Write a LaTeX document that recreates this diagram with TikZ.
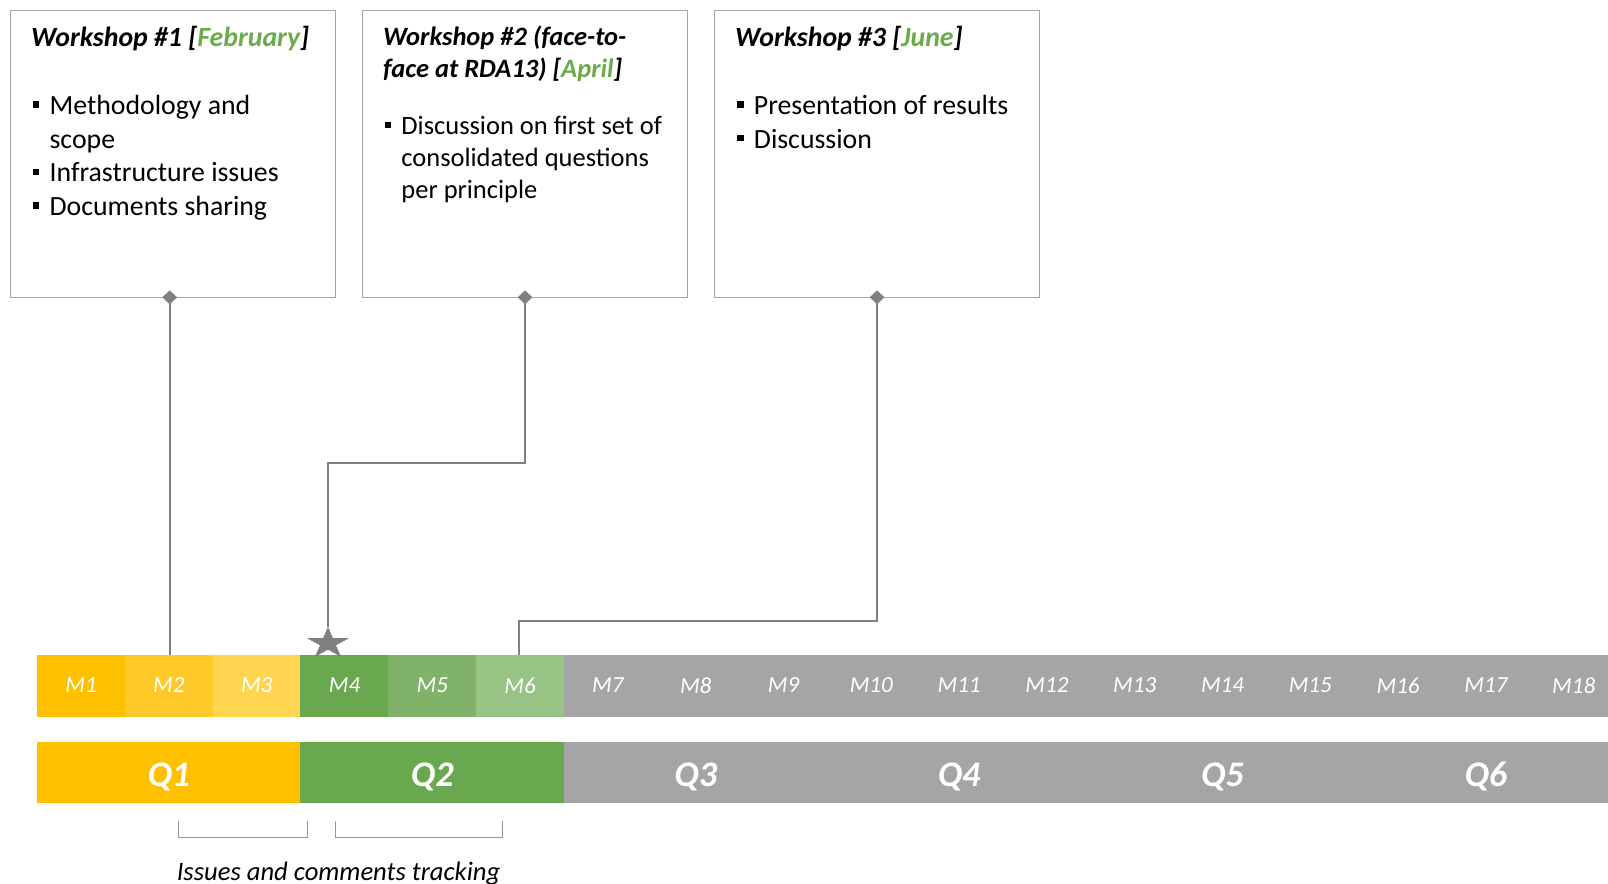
\documentclass[tikz,border=0pt]{standalone}
\usepackage{fontspec}
\setmainfont{Carlito}
\usetikzlibrary{shapes.geometric,backgrounds}
\definecolor{wsgreen}{HTML}{6AAB4A}
\definecolor{boxgray}{HTML}{A6A6A6}
\definecolor{conngray}{HTML}{808080}
\definecolor{brgray}{HTML}{969696}
\definecolor{barg}{HTML}{A5A5A5}
\definecolor{yA}{HTML}{FFC000}
\definecolor{yB}{HTML}{FFC929}
\definecolor{yC}{HTML}{FFD451}
\definecolor{gA}{HTML}{6AA84F}
\definecolor{gB}{HTML}{80B26A}
\definecolor{gC}{HTML}{97C385}
\newcommand\wbulA{\makebox[17pt][l]{\raisebox{6.6pt}{\rule{6.8pt}{6.6pt}}}}
\newcommand\wbulB{\makebox[16.6pt][l]{\raisebox{6.3pt}{\rule{6.5pt}{6.3pt}}}}
\begin{document}
\begin{tikzpicture}[x=1pt,y=-1pt,
  wbox/.style={draw=boxgray, line width=1pt, fill=white, anchor=north west, inner sep=0pt},
  lnA/.style={anchor=base west, inner sep=0pt, font=\fontsize{27.8pt}{33.7pt}\selectfont},
  lnB/.style={anchor=base west, inner sep=0pt, font=\fontsize{26.5pt}{31.8pt}\selectfont},
  ttlA/.style={lnA, font=\fontsize{27.8pt}{33.7pt}\selectfont\bfseries\itshape},
  ttlB/.style={lnB, font=\fontsize{26.5pt}{31.8pt}\selectfont\bfseries\itshape},
  dmd/.style={diamond, fill=conngray, minimum width=15pt, minimum height=14pt, inner sep=0pt},
  conn/.style={draw=conngray, line width=2.3pt},
  brk/.style={draw=brgray, line width=1.3pt},
  mcell/.style={minimum width=87.8pt, minimum height=60.7pt, inner sep=0pt, line width=0.4pt, text=white, font=\fontsize{23pt}{26pt}\selectfont\itshape},
  qcell/.style={minimum width=263.4pt, minimum height=60.7pt, inner sep=0pt, line width=0.4pt, text=white, text height=27.4pt, text depth=0pt, font=\fontsize{36pt}{40pt}\selectfont\bfseries\itshape}]
\useasboundingbox (0,0) rectangle (1608,883);
\begin{pgfonlayer}{background}
\fill[white] (0,0) rectangle (1608,883);
\end{pgfonlayer}

% workshop boxes
\node[wbox, minimum width=325.3pt, minimum height=287.3pt] (w1) at (10,10) {};
\node[wbox, minimum width=325pt, minimum height=287.3pt] (w2) at (362,10) {};
\node[wbox, minimum width=325pt, minimum height=287.3pt] (w3) at (714.3,10) {};

% box 1 text
\node[ttlA] (t1) at (31,46.5) {Workshop \#1 [\textcolor{wsgreen}{February}]};
\node[lnA] (t1a) at (32.4,114.3) {\wbulA Methodology and};
\node[lnA] (t1b) at (49.4,148) {scope};
\node[lnA] (t1c) at (32.4,181.7) {\wbulA Infrastructure issues};
\node[lnA] (t1d) at (32.4,215.4) {\wbulA Documents sharing};

% box 2 text
\node[ttlB] (t2) at (383,46) {Workshop \#2 (face-to-};
\node[ttlB] (t2x) at (383,77.8) {face at RDA13) [\textcolor{wsgreen}{April}]};
\node[lnB] (t2a) at (384.6,134.4) {\wbulB Discussion on first set of};
\node[lnB] (t2b) at (401.2,166.2) {consolidated questions};
\node[lnB] (t2c) at (401.2,198) {per principle};

% box 3 text
\node[ttlA] (t3) at (735,46.5) {Workshop \#3 [\textcolor{wsgreen}{June}]};
\node[lnA] (t3a) at (736.7,114.3) {\wbulA Presentation of results};
\node[lnA] (t3b) at (736.7,148) {\wbulA Discussion};

% diamonds
\node[dmd] (d1) at (169.7,297.3) {};
\node[dmd] (d2) at (525,297.3) {};
\node[dmd] (d3) at (877,297.3) {};

% month bar
\foreach \i/\c in {1/yA,2/yB,3/yC,4/gA,5/gB,6/gC,7/barg,8/barg,9/barg,10/barg,11/barg,12/barg,13/barg,14/barg,15/barg,16/barg,17/barg,18/barg}
  \node[mcell, fill=\c, draw=\c] (m\i) at ({37.2+(\i-0.5)*87.8},685.4) {M\i};

% quarter bar
\foreach \k/\c in {1/yA,2/gA,3/barg,4/barg,5/barg,6/barg}
  \node[qcell, fill=\c, draw=\c] (q\k) at ({37.2+(\k-0.5)*263.4},772.3) {Q\k};

% star
\coordinate (star) at (328,626.7);
\fill[conngray, shift={(star)}] (0,0) -- (4.96,11.47) -- (21.02,11.47) -- (8.03,18.56) -- (13.0,30.03) -- (0,22.94) -- (-13.0,30.03) -- (-8.03,18.56) -- (-21.02,11.47) -- (-4.96,11.47) -- cycle;

% connectors
\coordinate (c2) at (328,463.3);
\coordinate (c3) at (519.3,620.7);
\begin{pgfonlayer}{background}
\draw[conn] (d1.center) -- (d1.center |- m2.north);
\draw[conn] (d2.center) |- (c2) -- (star);
\draw[conn] (d3.center) |- (c3) -- (c3 |- m6.north);
\end{pgfonlayer}

% brackets
\coordinate (b1l) at (178.5,821);
\coordinate (b1r) at (307.7,821);
\coordinate (b2l) at (335.6,821);
\coordinate (b2r) at (502.7,821);
\draw[brk] (b1l) -- ++(0,16.3) -| (b1r);
\draw[brk] (b2l) -- ++(0,16.3) -| (b2r);

\node[anchor=base, inner sep=0pt, font=\fontsize{26.6pt}{32pt}\selectfont\itshape] (track) at (338.5,880) {Issues and comments tracking};
\end{tikzpicture}
\end{document}
